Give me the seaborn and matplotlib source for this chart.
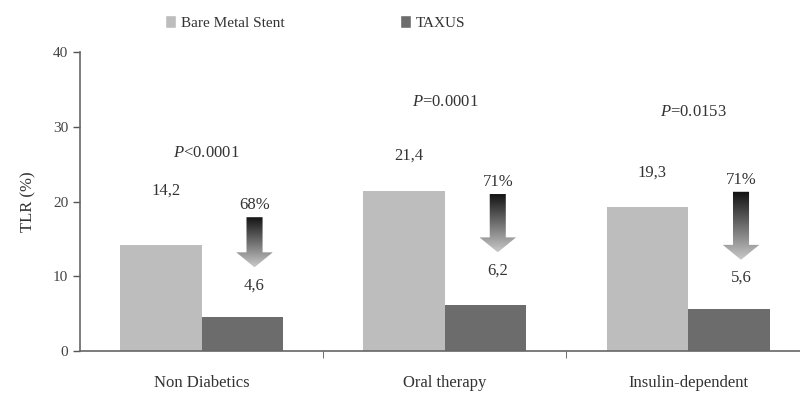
import numpy as np
import pandas as pd
import matplotlib
matplotlib.use("Agg")
import matplotlib.pyplot as plt
from matplotlib.patches import Polygon, Patch
import seaborn as sns

# data
groups = ["Non Diabetics", "Oral therapy", "Insulin-dependent"]
series = ["Bare Metal Stent", "TAXUS"]
bms = [14.2, 21.4, 19.3]
taxus = [4.6, 6.2, 5.6]
reduction = ["68%", "71%", "71%"]
pvalues = ["<0.0001", "=0.0001", "=0.0153"]

# text positions (data units)
bms_label_y = [21.5, 26.1, 23.9]
taxus_label_y = [8.8, 10.8, 9.8]
pct_label_y = [19.5, 22.6, 22.9]
p_label_y = [26.5, 33.3, 32.0]
p_label_x = [0.02, 0.0, 0.02]

sns.set_style("white")
plt.rcParams["font.family"] = ["Liberation Serif", "DejaVu Serif"]
plt.rcParams["mathtext.fontset"] = "custom"
plt.rcParams["mathtext.it"] = "Liberation Serif:italic"
plt.rcParams["mathtext.rm"] = "Liberation Serif"
txt = "#333333"
light, dark = "#bdbdbd", "#6c6c6c"

df = pd.DataFrame({
    "group": groups * 2,
    "series": [series[0]] * 3 + [series[1]] * 3,
    "value": bms + taxus,
})

fig = plt.figure(figsize=(8, 3.96), dpi=100)
ax = fig.add_axes([0.1, 0.1136, 0.9, 0.7551])

sns.barplot(data=df, x="group", y="value", hue="series", palette=[light, dark],
            width=0.67, saturation=1, linewidth=0, legend=False, ax=ax)

bw = 0.67 / 2
cmap = matplotlib.colors.LinearSegmentedColormap.from_list("g", ["#111111", "#c8c8c8"])
for i in range(3):
    xl = i - bw / 2
    xd = i + bw / 2
    ax.text(xl + 0.02, bms_label_y[i], f"{bms[i]:.1f}".replace(".", ","),
            ha="center", va="center", fontsize=12, color=txt)
    ax.text(xd + 0.05, taxus_label_y[i], f"{taxus[i]:.1f}".replace(".", ","),
            ha="center", va="center", fontsize=12, color=txt)
    ax.text(xd + 0.05, pct_label_y[i], reduction[i],
            ha="center", va="center", fontsize=12, color=txt)
    ax.text(i + p_label_x[i], p_label_y[i], r"$\it{P}$" + pvalues[i],
            ha="center", va="center", fontsize=12, color=txt)

    # gradient arrow
    cx = xd + 0.05
    top = pct_label_y[i] - 1.6
    tip = taxus_label_y[i] + 2.4
    head = tip + 2.0
    sw, hw = 0.033, 0.075
    verts = [(cx - sw, top), (cx + sw, top), (cx + sw, head), (cx + hw, head),
             (cx, tip), (cx - hw, head), (cx - sw, head)]
    poly = Polygon(verts, closed=True, facecolor="none", edgecolor="none")
    ax.add_patch(poly)
    grad = np.linspace(0, 1, 100).reshape(-1, 1)
    im = ax.imshow(grad, cmap=cmap, aspect="auto",
                   extent=[cx - hw, cx + hw, tip, top], origin="upper", zorder=3)
    im.set_clip_path(poly)

ax.set_xlim(-0.5, 2.46)
ax.set_ylim(0, 40)
ax.set_yticks([0, 10, 20, 30, 40])
ax.set_xlabel("")
ax.set_ylabel("TLR (%)", fontsize=12, color=txt, labelpad=12)
ax.tick_params(axis="y", labelsize=11, colors="#555555", length=5, width=1,
               direction="out", left=True, labelcolor="#444444")
ax.tick_params(axis="x", labelsize=12, length=0, pad=17, labelcolor=txt)
ax.set_xticks([0.5, 1.5], minor=True)
ax.tick_params(axis="x", which="minor", length=5, direction="out", bottom=True,
               color="#555555")

for s in ["top", "right"]:
    ax.spines[s].set_visible(False)
for s in ["left", "bottom"]:
    ax.spines[s].set_color("#666666")
    ax.spines[s].set_linewidth(1.2)

handles = [Patch(facecolor=light, label=series[0]), Patch(facecolor=dark, label=series[1])]
fig.legend(handles=handles, loc="center", bbox_to_anchor=(0.394, 0.943), ncol=2,
           frameon=False, fontsize=11, handlelength=0.7, handleheight=0.9,
           handletextpad=0.3, columnspacing=7.6, labelcolor=txt)

fig.savefig("out.png", dpi=100)
